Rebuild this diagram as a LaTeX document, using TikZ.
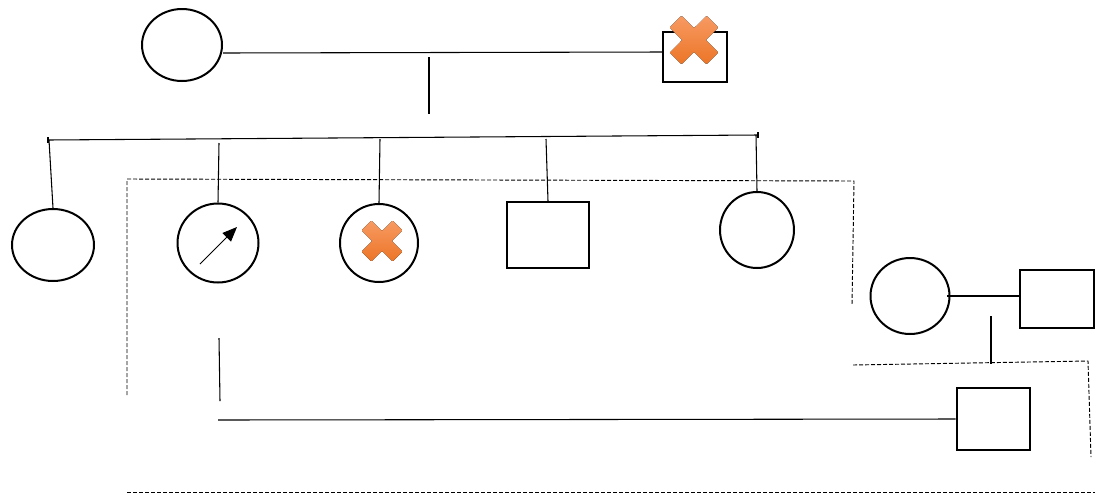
\documentclass[tikz,border=0pt]{standalone}
\usetikzlibrary{shapes.geometric,arrows.meta}
\definecolor{xtop}{HTML}{F79A63}
\definecolor{xbot}{HTML}{EC7526}
\tikzset{
  fem/.style={draw,ellipse,line width=1.5pt,inner sep=0pt},
  mal/.style={draw,rectangle,line width=1.5pt,inner sep=0pt},
  conn/.style={line width=0.8pt},
  dashline/.style={line width=0.7pt,dash pattern=on 3pt off 1.5pt},
  xmark/.pic={
    \fill[top color=xtop,bottom color=xbot,rounded corners=0.6pt]
      (0,0.4525) -- (-0.481,0.933) -- (-0.933,0.481) -- (-0.4525,0) --
      (-0.933,-0.481) -- (-0.481,-0.933) -- (0,-0.4525) -- (0.481,-0.933) --
      (0.933,-0.481) -- (0.4525,0) -- (0.933,0.481) -- (0.481,0.933) -- cycle;
  }
}
\begin{document}
\begin{tikzpicture}[x=0.75pt,y=-0.75pt]
\useasboundingbox (0,0) rectangle (1100,494);
% generation I
\node[fem,minimum width=60pt,minimum height=54pt] (gm) at (182,45) {};
\node[mal,minimum width=48pt,minimum height=37.5pt] (gf) at (695,57) {};
\pic[scale=26] at (694,40) {xmark};
\draw[conn] (gm.east |- 0,53) -- (gf.west |- 0,52);
\coordinate (d1) at (429,57);
\coordinate (d2) at (429,114);
\draw[conn] (d1) -- (d2);
% sibship line
\coordinate (s0) at (48,140);
\coordinate (s1) at (758,135);
\draw[conn] (s0) -- (s1);
\draw[conn] (48,137) -- (48,143);
\draw[conn] (758,132) -- (758,138);
% generation II
\node[fem,minimum width=61.5pt,minimum height=54pt] (c1) at (53,245) {};
\node[fem,minimum width=60.75pt,minimum height=59.25pt] (c2) at (218,243) {};
\node[fem,minimum width=58.5pt,minimum height=58.5pt] (c3) at (379,243) {};
\node[mal,minimum width=61.5pt,minimum height=49.5pt] (c4) at (548,235) {};
\node[fem,minimum width=55.5pt,minimum height=57pt] (c5) at (757,230) {};
\pic[scale=22] at (382,241) {xmark};
\coordinate (a1) at (200,264);
\coordinate (a2) at (237,227);
\draw[line width=0.7pt,-{Triangle[length=11pt,width=9pt]}] (a1) -- (a2);
\draw[conn] (49,140) -- (c1.north);
\draw[conn] (219,143) -- (c2.north);
\draw[conn] (380,139) -- (c3.north);
\draw[conn] (546,139) -- (c4.north);
\draw[conn] (756,135) -- (c5.north);
% right couple
\node[fem,minimum width=59.25pt,minimum height=57pt] (rw) at (910,296) {};
\node[mal,minimum width=55.5pt,minimum height=43.5pt] (rh) at (1057,299) {};
\draw[conn] (947,296) -- (rh.west |- 0,296);
\coordinate (r1) at (991,316);
\coordinate (r2) at (991,364);
\draw[conn] (r1) -- (r2);
% child
\node[mal,minimum width=54.75pt,minimum height=46.5pt] (ch) at (993,419) {};
\coordinate (v1) at (219,338);
\coordinate (v2) at (220,401);
\draw[conn] (v1) -- (v2);
\draw[conn] (218,420) -- (ch.west |- 0,419);
% dashed lines
\coordinate (p1) at (127,395);
\coordinate (p2) at (127,179);
\coordinate (p3) at (854,181);
\coordinate (p4) at (852,305);
\draw[dashline] (p1) -- (p2) -- (p3) -- (p4);
\coordinate (q1) at (853,365);
\coordinate (q2) at (1088,361);
\coordinate (q3) at (1091,457);
\draw[dashline] (q1) -- (q2) -- (q3);
\coordinate (b1) at (127,492);
\coordinate (b2) at (1095,492);
\draw[dashline] (b1) -- (b2);
\end{tikzpicture}
\end{document}
